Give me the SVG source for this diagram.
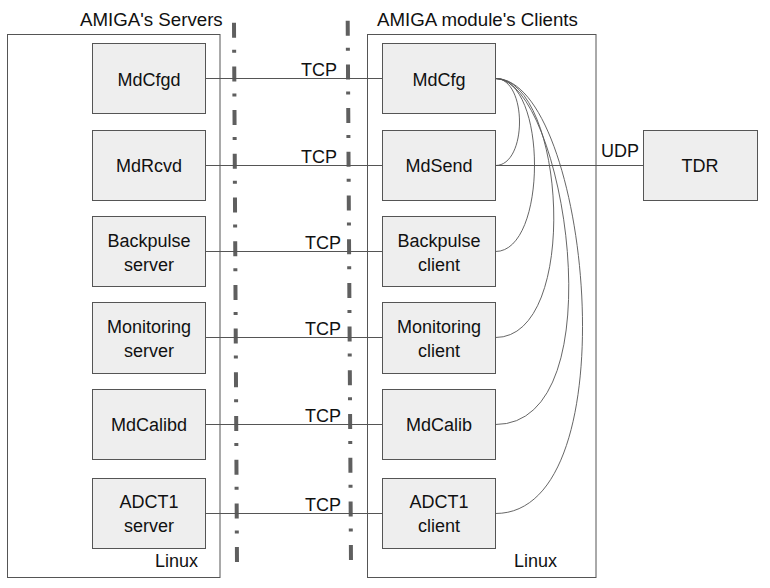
<svg xmlns="http://www.w3.org/2000/svg" width="770" height="588" viewBox="0 0 770 588">
<style>
text{font-family:"Liberation Sans",Arial,sans-serif;font-size:18px;fill:#111}
.c{text-anchor:middle}
.e{text-anchor:end}
.t{font-size:18.7px}
.box{fill:#eeeeee;stroke:#555;stroke-width:1}
.cont{fill:none;stroke:#555;stroke-width:1}
.ln{fill:none;stroke:#555;stroke-width:1}
.cv{fill:none;stroke:#555;stroke-width:0.9}
.dd{fill:none;stroke:#5f5f5f;stroke-width:4;stroke-dasharray:15 12 3 13.7}
</style>
<rect width="770" height="588" fill="#fff"/>
<g id="servers-container">
<rect class="cont" x="7.5" y="34.5" width="212.5" height="543"/>
<text class="t" x="80" y="26">AMIGA's Servers</text>
<text x="155" y="567">Linux</text>
</g>
<g id="clients-container">
<rect class="cont" x="367.5" y="34.5" width="228.5" height="543"/>
<text class="t" x="377" y="26">AMIGA module's Clients</text>
<text x="514" y="567">Linux</text>
</g>
<g id="separators">
<line class="dd" x1="234" y1="22.7" x2="237" y2="565"/>
<line class="dd" x1="347.7" y1="20.7" x2="351" y2="565"/>
</g>
<g id="connectors">
<line class="ln" x1="205.5" y1="78.5" x2="382.5" y2="78.5"/>
<line class="ln" x1="205.5" y1="165.5" x2="382.5" y2="165.5"/>
<line class="ln" x1="205.5" y1="251.5" x2="382.5" y2="251.5"/>
<line class="ln" x1="205.5" y1="337.5" x2="382.5" y2="337.5"/>
<line class="ln" x1="205.5" y1="424.5" x2="382.5" y2="424.5"/>
<line class="ln" x1="205.5" y1="513.5" x2="382.5" y2="513.5"/>
<line class="ln" x1="495.5" y1="165.5" x2="643.5" y2="165.5"/>
<text class="e" x="337" y="76">TCP</text>
<text class="e" x="337" y="163">TCP</text>
<text class="e" x="341" y="249">TCP</text>
<text class="e" x="341" y="335">TCP</text>
<text class="e" x="341" y="422">TCP</text>
<text class="e" x="341" y="511">TCP</text>
<text x="601" y="157">UDP</text>
<path class="cv" d="M495.5,78.5 C527.5,78.5 527.5,165.5 495.5,165.5"/>
<path class="cv" d="M495.5,78.5 C547.5,78.5 547.5,251.5 495.5,251.5"/>
<path class="cv" d="M495.5,78.5 C565,78.5 581,337.5 495.5,337.5"/>
<path class="cv" d="M495.5,78.5 C563.5,78.5 619,424.5 495.5,424.5"/>
<path class="cv" d="M495.5,78.5 C588.5,78.5 632.5,513.5 495.5,513.5"/>
</g>
<g id="MdCfgd"><rect class="box" x="92.5" y="43.5" width="113" height="70"/><text class="c" x="149" y="86">MdCfgd</text></g>
<g id="MdRcvd"><rect class="box" x="92.5" y="130.5" width="113" height="70"/><text class="c" x="149" y="172">MdRcvd</text></g>
<g id="BackpulseServer"><rect class="box" x="92.5" y="216.5" width="113" height="70"/><text class="c" x="149" y="247">Backpulse</text><text class="c" x="149" y="271">server</text></g>
<g id="MonitoringServer"><rect class="box" x="92.5" y="302.5" width="113" height="71"/><text class="c" x="149" y="333">Monitoring</text><text class="c" x="149" y="357">server</text></g>
<g id="MdCalibd"><rect class="box" x="92.5" y="389.5" width="113" height="70"/><text class="c" x="149" y="431">MdCalibd</text></g>
<g id="ADCT1Server"><rect class="box" x="92.5" y="478.5" width="113" height="70"/><text class="c" x="149" y="508">ADCT1</text><text class="c" x="149" y="532">server</text></g>
<g id="MdCfg"><rect class="box" x="382.5" y="43.5" width="113" height="70"/><text class="c" x="439" y="86">MdCfg</text></g>
<g id="MdSend"><rect class="box" x="382.5" y="130.5" width="113" height="70"/><text class="c" x="439" y="172">MdSend</text></g>
<g id="BackpulseClient"><rect class="box" x="382.5" y="216.5" width="113" height="70"/><text class="c" x="439" y="247">Backpulse</text><text class="c" x="439" y="271">client</text></g>
<g id="MonitoringClient"><rect class="box" x="382.5" y="302.5" width="113" height="71"/><text class="c" x="439" y="333">Monitoring</text><text class="c" x="439" y="357">client</text></g>
<g id="MdCalib"><rect class="box" x="382.5" y="389.5" width="113" height="70"/><text class="c" x="439" y="431">MdCalib</text></g>
<g id="ADCT1Client"><rect class="box" x="382.5" y="478.5" width="113" height="70"/><text class="c" x="439" y="508">ADCT1</text><text class="c" x="439" y="532">client</text></g>
<g id="TDR"><rect class="box" x="643.5" y="130.5" width="114" height="70"/><text class="c" x="700" y="172">TDR</text></g>
</svg>
